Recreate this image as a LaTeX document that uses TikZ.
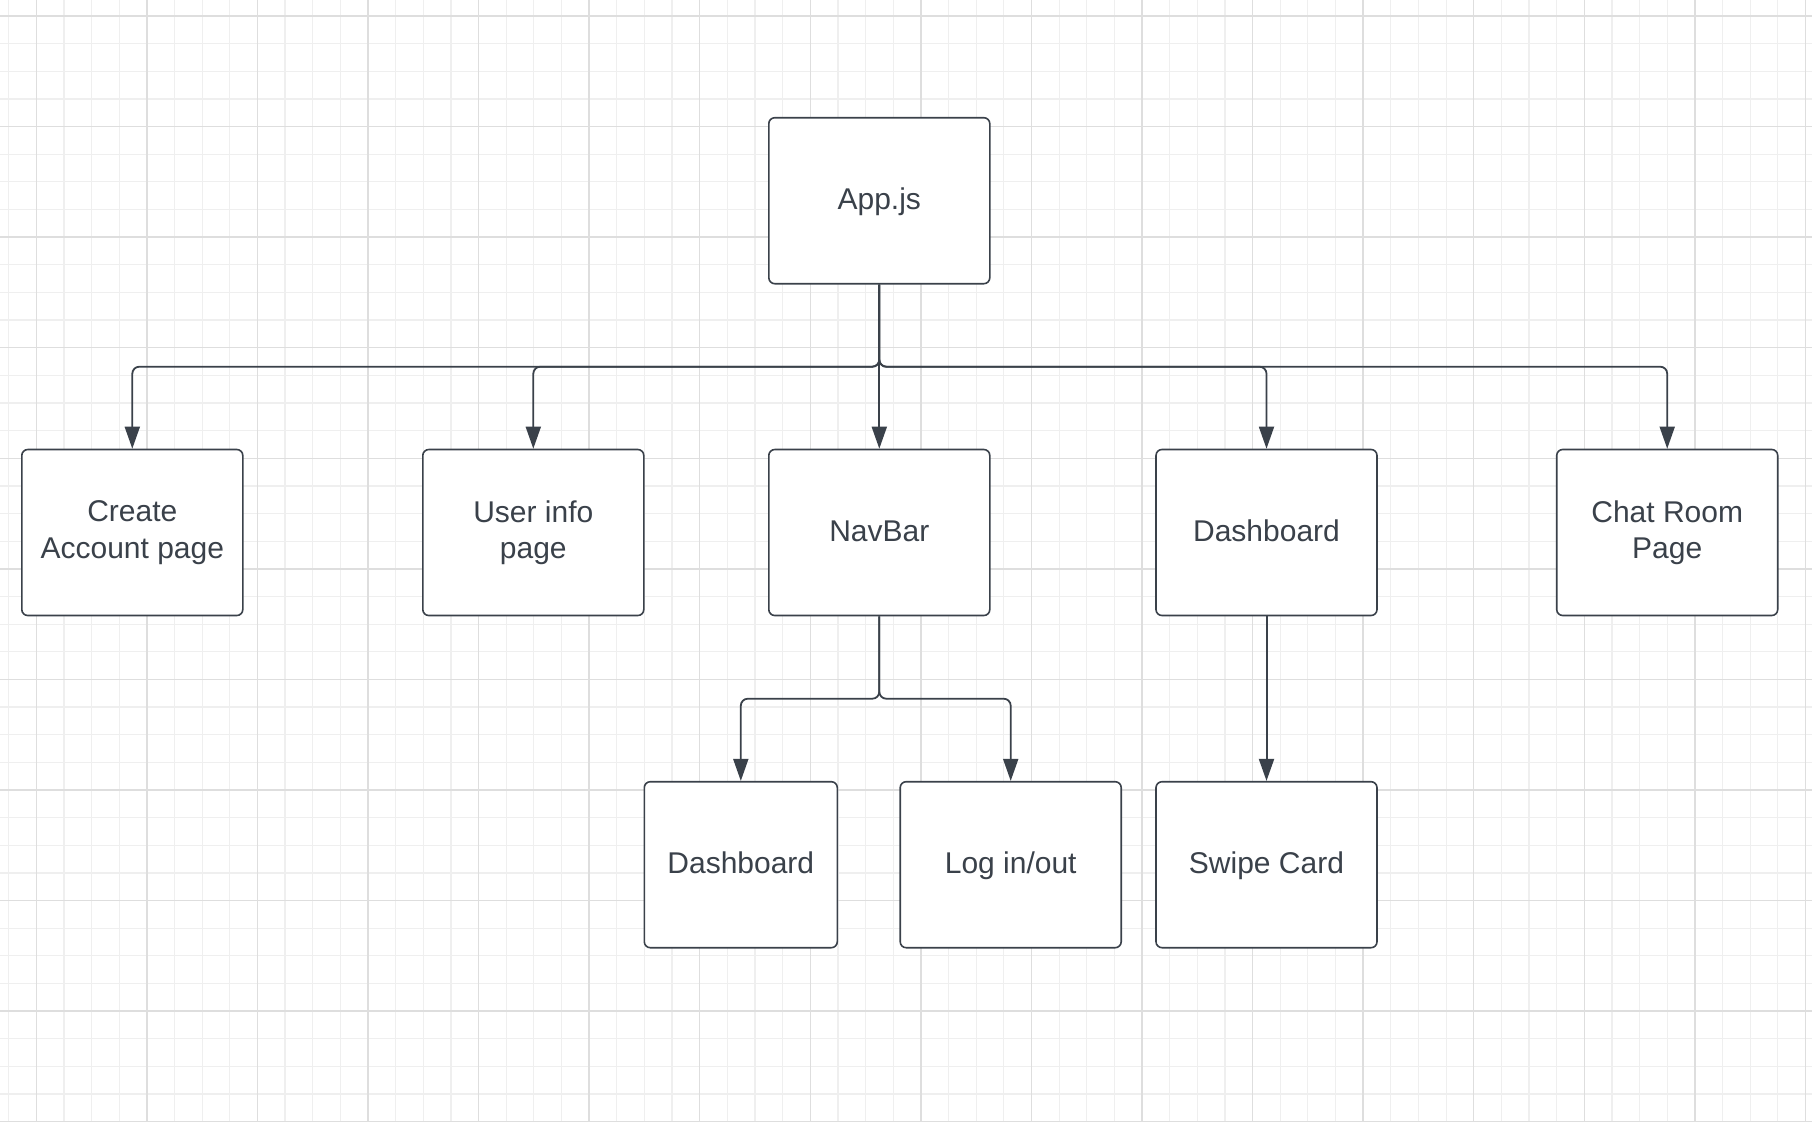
\documentclass[tikz,border=0pt]{standalone}
\usepackage{fontspec}
\setmainfont{Liberation Sans}
\usetikzlibrary{arrows.meta}
\definecolor{ink}{HTML}{3A414A}
\definecolor{gminor}{HTML}{EFEFEF}
\definecolor{gmajor}{HTML}{DEDEDE}
\begin{document}
\begin{tikzpicture}[x=1pt,y=-1pt,
  box/.style={draw=ink, line width=1.6pt, rounded corners=6pt, fill=white,
    minimum width=221pt, minimum height=166pt, inner sep=0pt, align=center,
    text=ink, font=\fontsize{30}{36.5}\selectfont},
  oneline/.style={text height=22.6pt, text depth=5.4pt},
  conn/.style={draw=ink, line width=1.8pt, rounded corners=7pt,
    -{Triangle[width=15pt,length=22pt]}},
  gridminor/.style={draw=gminor, line width=1.2pt},
  gridmajor/.style={draw=gmajor, line width=1.4pt},
]
\fill[white] (0,0) rectangle (1812,1122);
\useasboundingbox (0,0) rectangle (1812,1122);
% grid
\foreach \i in {-1,...,64} \draw[gridminor] ({36.3+27.643*\i},0) -- ({36.3+27.643*\i},1122);
\foreach \i in {0,...,40} \draw[gridminor] (0,{16+27.643*\i}) -- (1812,{16+27.643*\i});
\foreach \i in {0,...,16} \draw[gridmajor] ({36.3+110.57*\i},0) -- ({36.3+110.57*\i},1122);
\foreach \i in {0,...,10} \draw[gridmajor] (0,{16+110.57*\i}) -- (1812,{16+110.57*\i});

% nodes
\node[box, oneline] (app) at (879.3,200.7) {App.js};
\node[box] (create) at (132.3,532.5) {Create\\Account page};
\node[box] (user) at (533.3,532.5) {User info\\page};
\node[box, oneline] (nav) at (879.3,532.5) {NavBar};
\node[box, oneline] (dash) at (1266.5,532.5) {Dashboard};
\node[box] (chat) at (1667.2,532.5) {Chat Room\\Page};
\node[box, oneline, minimum width=193pt] (dash2) at (740.8,864.7) {Dashboard};
\node[box, oneline] (login) at (1010.7,864.7) {Log in/out};
\node[box, oneline] (swipe) at (1266.5,864.7) {Swipe Card};

\coordinate (bus) at (879.3,366.7);
\coordinate (bus2) at (879.3,698.7);

% connectors
\draw[conn] (app.south) -- (bus) -| (create.north);
\draw[conn] (app.south) -- (bus) -| (user.north);
\draw[conn] (app.south) -- (nav.north);
\draw[conn] (app.south) -- (bus) -| (dash.north);
\draw[conn] (app.south) -- (bus) -| (chat.north);
\draw[conn] (nav.south) -- (bus2) -| (dash2.north);
\draw[conn] (nav.south) -- (bus2) -| (login.north);
\draw[conn, line width=2pt] (dash.south) -- (swipe.north);
\end{tikzpicture}
\end{document}
